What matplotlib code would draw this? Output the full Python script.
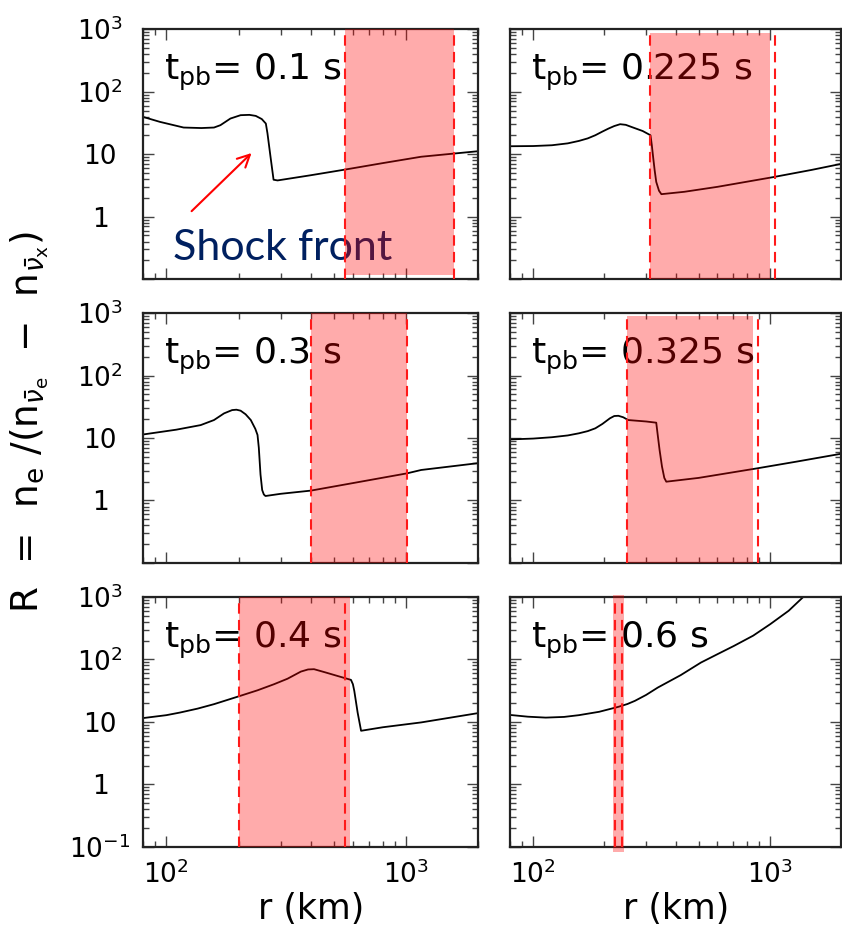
import numpy as np
import matplotlib.pyplot as plt
from matplotlib.ticker import NullFormatter, FixedLocator

# panel times (s)
times = ['0.1', '0.225', '0.3', '0.325', '0.4', '0.6']

# R profiles, r in km
r_01 = [80, 94, 118, 140, 158, 168, 185, 204, 222, 236, 250, 260, 264, 272, 280, 291, 400, 561, 800, 1156, 2018]
R_01 = [39.5, 32.9, 26.7, 26.2, 26.7, 29.1, 37.2, 42.1, 42.6, 41.0, 36.5, 30.9, 21.7, 9.0, 3.9, 3.8, 4.6, 5.7, 7.2, 9.1, 11.2]

r_0225 = [80, 100, 120, 140, 156, 170, 183, 196, 208, 220, 233, 246, 260, 290, 313, 317, 321, 326, 331, 340, 348, 435, 600, 1035, 1500, 2000]
R_0225 = [13.4, 13.5, 13.9, 14.9, 16.3, 17.9, 20.1, 23.0, 25.7, 28.2, 30.2, 29.5, 27.3, 23.5, 20.1, 14.0, 9.1, 5.5, 3.6, 2.6, 2.29, 2.5, 3.0, 4.3, 5.6, 7.0]

r_03 = [80, 110, 139, 158, 174, 188, 196, 204, 214, 225, 235, 240, 243, 247, 251, 255, 259, 300, 401, 600, 1009, 1156, 2018]
R_03 = [11.4, 13.6, 16.1, 19.4, 24.8, 28.0, 28.4, 27.4, 24.0, 19.4, 14.0, 11.2, 7.0, 2.6, 1.47, 1.25, 1.18, 1.28, 1.44, 1.9, 2.72, 3.08, 3.98]

r_0325 = [80, 100, 120, 140, 156, 170, 183, 196, 211, 220, 229, 240, 252, 300, 331, 336, 342, 350, 358, 365, 500, 883, 1300, 2000]
R_0325 = [9.5, 9.8, 10.3, 11.0, 11.9, 12.9, 14.3, 16.8, 20.7, 22.5, 22.7, 21.5, 19.4, 18.4, 17.6, 11.0, 6.4, 3.5, 2.3, 2.0, 2.3, 3.27, 4.2, 5.6]

r_04 = [80, 100, 114, 135, 158, 199, 240, 281, 320, 364, 390, 413, 460, 520, 589, 600, 608, 628, 649, 800, 1156, 2018]
R_04 = [11.5, 12.8, 14.1, 16.3, 19.2, 25.4, 32.0, 40.0, 49.0, 63.8, 69.0, 69.7, 62.0, 54.0, 47.0, 40.0, 31.3, 14.0, 7.2, 8.2, 9.8, 13.9]

r_06 = [80, 95, 113, 135, 156, 190, 229, 250, 269, 300, 336, 420, 511, 600, 704, 850, 1003, 1200, 1384]
R_06 = [12.9, 12.1, 11.7, 12.0, 12.8, 14.5, 17.4, 19.3, 21.7, 27.0, 35.4, 56.0, 88.9, 121, 164, 240, 366, 600, 1000]

r_list = [r_01, r_0225, r_03, r_0325, r_04, r_06]
R_list = [R_01, R_0225, R_03, R_0325, R_04, R_06]

# dashed boundaries and shaded band (km)
dash_lines = [(556, 1585), (312, 1050), (401, 1009), (250, 891), (200, 556), (222, 238)]
bands = [(556, 1585), (312, 1000), (401, 1009), (250, 849), (200, 583), (218, 243)]
band_y = [(0.016, 1.0), (0.0, 0.984), (0.0, 1.0), (0.0, 0.988), (0.0, 1.0), (-0.02, 1.008)]

ytick_vals = [1e3, 1e2, 10, 1, 0.1]
ytick_full = [r'$10^3$', r'$10^2$', '10', '1', r'$10^{-1}$']
ytick_short = [r'$10^3$', r'$10^2$', '10', '1', '']

x_minor = [m * 10.0 ** e for e in range(1, 4) for m in range(2, 10)]
y_minor = [m * 10.0 ** e for e in range(-1, 3) for m in range(2, 10)]

fig = plt.figure(figsize=(8.42, 9.43), dpi=100)
lefts = [0.170, 0.606]
widths = [0.398, 0.393]
bottoms = [0.704, 0.403, 0.102]
h = 0.265

axes = []
for i in range(6):
    row, col = divmod(i, 2)
    ax = fig.add_axes([lefts[col], bottoms[row], widths[col], h])
    axes.append(ax)
    ax.set_xscale('log')
    ax.set_yscale('log')
    ax.set_xlim(80, 2000)
    ax.set_ylim(0.1, 1000)

    ax.plot(r_list[i], R_list[i], color='black', lw=1.3, zorder=2)

    lo, hi = bands[i]
    span = ax.axvspan(lo, hi, ymin=band_y[i][0], ymax=band_y[i][1],
                      color='red', alpha=0.33, lw=0, zorder=5)
    if i == 5:
        span.set_clip_on(False)
    for xv in dash_lines[i]:
        ax.axvline(xv, color='#ff1a1a', lw=1.5, ls=(0, (5, 3)), zorder=6)

    ax.text(0.062, 0.795, r'$\mathregular{t_{pb}}$= ' + times[i] + ' s',
            transform=ax.transAxes, fontsize=26, va='baseline', ha='left', zorder=3)

    ax.xaxis.set_major_locator(FixedLocator([100, 1000]))
    ax.xaxis.set_minor_locator(FixedLocator(x_minor))
    ax.yaxis.set_major_locator(FixedLocator(ytick_vals))
    ax.yaxis.set_minor_locator(FixedLocator(y_minor))
    ax.xaxis.set_minor_formatter(NullFormatter())
    ax.yaxis.set_minor_formatter(NullFormatter())

    ax.tick_params(which='both', direction='in', top=True, right=True,
                   color='#444444', width=1.0)
    ax.tick_params(which='major', length=8, labelsize=19)
    ax.tick_params(which='minor', length=4.5)
    ax.tick_params(axis='y', pad=31)
    ax.tick_params(axis='x', pad=10)

    if col == 0:
        labs = ytick_full if row == 2 else ytick_short
        ax.set_yticklabels(labs, ha='center')
    else:
        ax.set_yticklabels([])
    if row == 2:
        ax.set_xticklabels([r'$10^2$', r'$10^3$'])
        ax.set_xlabel('r (km)', fontsize=25, labelpad=2)
    else:
        ax.set_xticklabels([])

    for s in ax.spines.values():
        s.set_linewidth(1.6)
        s.set_color('#222222')

# shock front annotation
ax0 = axes[0]
ax0.annotate('', xy=(231, 11.2), xytext=(125, 1.14),
             arrowprops=dict(arrowstyle='->', color='red', lw=1.5, mutation_scale=22),
             zorder=4)
ax0.text(107, 0.2, 'Shock front', fontsize=31, family='Lato', color='#002060',
         ha='left', va='baseline', zorder=3)

fig.text(0.036, 0.553,
         r'R  =  n$_{\rm e}$ /(n$_{\bar{\nu}_{\rm e}}$  $-$  n$_{\bar{\nu}_{\rm x}}$)',
         rotation=90, fontsize=27, ha='center', va='center')

fig.savefig('out.png', dpi=100)
